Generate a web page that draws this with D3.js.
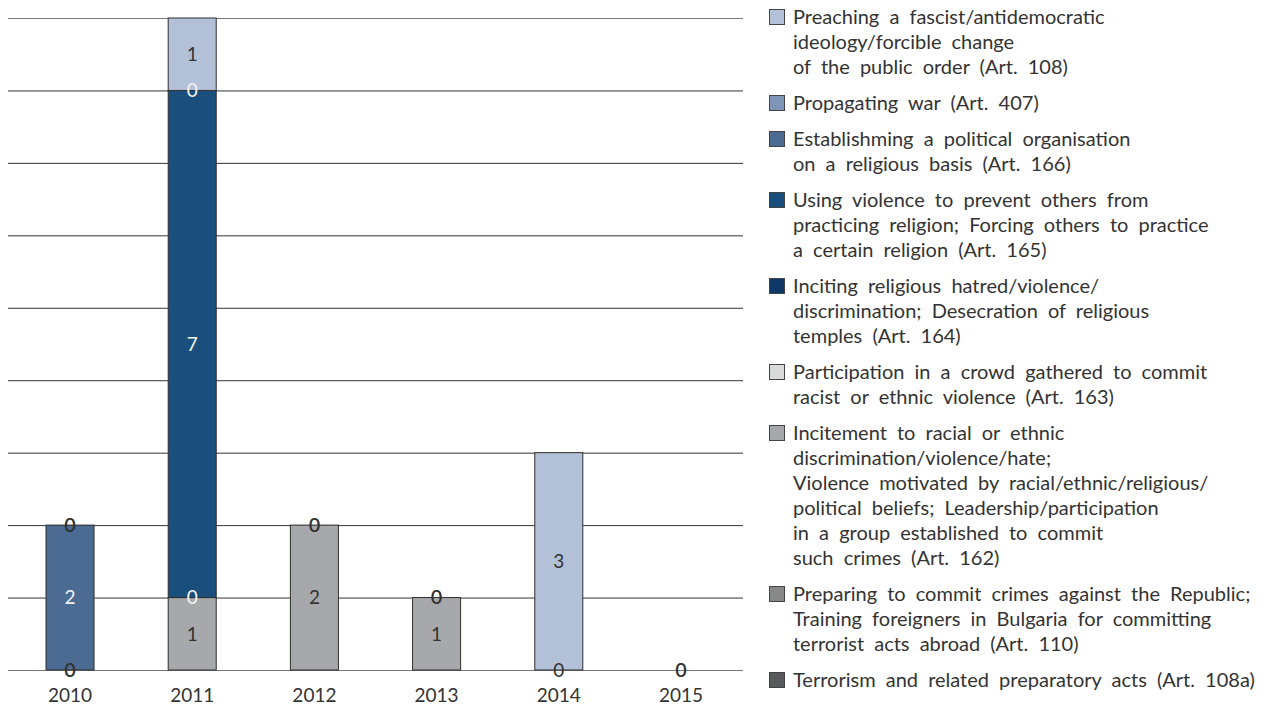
<!DOCTYPE html>
<html>
<head>
<meta charset="utf-8">
<script src="https://cdn.jsdelivr.net/npm/d3@7"></script>
<style>
  html, body { margin: 0; padding: 0; background: #fff; }
  svg { display: block; font-family: Lato, "Open Sans", sans-serif; }
</style>
</head>
<body>
<svg id="chart" width="1268" height="707"></svg>
<script>
// Years on the horizontal axis
const years = ["2010", "2011", "2012", "2013", "2014", "2015"];

// Cases per article of the Criminal Code (null = no entry for that year)
const art108a = [0, null, null, null, null, 0];
const art110  = [0, null, null, null, null, null];
const art162  = [null, 1, 2, 1, 0, 0];
const art163  = [null, null, 0, 0, null, null];
const art164  = [null, 0, null, null, null, null];
const art165  = [null, 7, null, null, null, null];
const art166  = [2, 0, null, null, null, null];
const art407  = [0, null, null, null, null, null];
const art108  = [0, 1, 0, 0, 3, null];

// Gridline values
const gridValues = [0, 1, 2, 3, 4, 5, 6, 7, 8, 9];

// Series, bottom of the stack first
const series = [
  { key: "108a", values: art108a, color: "#58595b", labelColor: "#333",
    lines: ["Terrorism and related preparatory acts (Art. 108a)"] },
  { key: "110", values: art110, color: "#87888a", labelColor: "#333",
    lines: ["Preparing to commit crimes against the Republic;",
            "Training foreigners in Bulgaria for committing",
            "terrorist acts abroad (Art. 110)"] },
  { key: "162", values: art162, color: "#a7a8ab", labelColor: "#333",
    lines: ["Incitement to racial or ethnic",
            "discrimination/violence/hate;",
            "Violence motivated by racial/ethnic/religious/",
            "political beliefs; Leadership/participation",
            "in a group established to commit",
            "such crimes (Art. 162)"] },
  { key: "163", values: art163, color: "#d9dadc", labelColor: "#333",
    lines: ["Participation in a crowd gathered to commit",
            "racist or ethnic violence (Art. 163)"] },
  { key: "164", values: art164, color: "#0d3868", labelColor: "#f4f4f4",
    lines: ["Inciting religious hatred/violence/",
            "discrimination; Desecration of religious",
            "temples (Art. 164)"] },
  { key: "165", values: art165, color: "#1a4e7c", labelColor: "#f4f4f4",
    lines: ["Using violence to prevent others from",
            "practicing religion; Forcing others to practice",
            "a certain religion (Art. 165)"] },
  { key: "166", values: art166, color: "#4b6b93", labelColor: "#f4f4f4",
    lines: ["Establishming a political organisation",
            "on a religious basis (Art. 166)"] },
  { key: "407", values: art407, color: "#7f95b7", labelColor: "#222",
    lines: ["Propagating war (Art. 407)"] },
  { key: "108", values: art108, color: "#b3c1d8", labelColor: "#333",
    lines: ["Preaching a fascist/antidemocratic",
            "ideology/forcible change",
            "of the public order (Art. 108)"] }
];

const svg = d3.select("#chart");
const plot = { left: 8, right: 743, top: 18, bottom: 670 };

const x = d3.scaleBand()
  .domain(years)
  .range([plot.left, plot.right])
  .paddingInner(0.607)
  .paddingOuter(0.311);

const y = d3.scaleLinear()
  .domain([0, 9])
  .range([plot.bottom, plot.top]);

// Table for the stack layout
const table = years.map((yr, i) => {
  const row = { year: yr };
  series.forEach(s => { row[s.key] = s.values[i] == null ? 0 : s.values[i]; });
  return row;
});
const stacked = d3.stack().keys(series.map(s => s.key))(table);

// Horizontal gridlines
svg.append("g")
  .attr("class", "grid")
  .attr("transform", `translate(${plot.left},0)`)
  .call(d3.axisLeft(y).tickValues(gridValues).tickSize(-(plot.right - plot.left)).tickFormat(""))
  .call(g => g.select(".domain").remove())
  .call(g => g.selectAll(".tick line")
    .attr("stroke", d => (d === 0 || d === 9) ? "#777" : "#333")
    .attr("stroke-width", 1));

// Bars
const layers = svg.append("g").selectAll("g")
  .data(stacked)
  .join("g")
  .attr("fill", (d, i) => series[i].color);

layers.selectAll("rect")
  .data(d => d.filter(p => p[1] - p[0] > 0))
  .join("rect")
  .attr("x", d => x(d.data.year))
  .attr("y", d => y(d[1]))
  .attr("width", x.bandwidth())
  .attr("height", d => y(d[0]) - y(d[1]))
  .attr("stroke", "#2f2f2f")
  .attr("stroke-width", 1);

// Value labels, zeros included where an entry exists
const labelG = svg.append("g")
  .attr("font-size", 19)
  .attr("text-anchor", "middle");

stacked.forEach((layer, si) => {
  const s = series[si];
  layer.forEach((p, yi) => {
    const v = s.values[yi];
    if (v == null) return;
    labelG.append("text")
      .attr("x", x(p.data.year) + x.bandwidth() / 2)
      .attr("y", y((p[0] + p[1]) / 2))
      .attr("dy", "0.36em")
      .attr("fill", s.labelColor)
      .text(v);
  });
});

// Year labels
svg.append("g")
  .attr("transform", `translate(0,${plot.bottom})`)
  .call(d3.axisBottom(x).tickSize(0).tickPadding(19))
  .call(g => g.select(".domain").remove())
  .call(g => g.selectAll("text")
    .attr("font-size", 19)
    .attr("font-family", "Lato, 'Open Sans', sans-serif")
    .attr("fill", "#333"));

// Legend, top entry is the top of the stack
const legend = svg.append("g").attr("transform", "translate(769,0)");
const lineH = 25, gap = 11;
let cy = 17;
series.slice().reverse().forEach(s => {
  const item = legend.append("g").attr("transform", `translate(0,${cy})`);
  item.append("rect")
    .attr("x", 0.5).attr("y", -7.5)
    .attr("width", 15).attr("height", 15)
    .attr("fill", s.color)
    .attr("stroke", "#444").attr("stroke-width", 1);
  s.lines.forEach((ln, li) => {
    item.append("text")
      .attr("x", 24)
      .attr("y", li * lineH)
      .attr("dy", "0.36em")
      .attr("font-size", 20)
      .attr("word-spacing", 5)
      .attr("fill", "#333")
      .text(ln);
  });
  cy += s.lines.length * lineH + gap;
});
</script>
</body>
</html>
